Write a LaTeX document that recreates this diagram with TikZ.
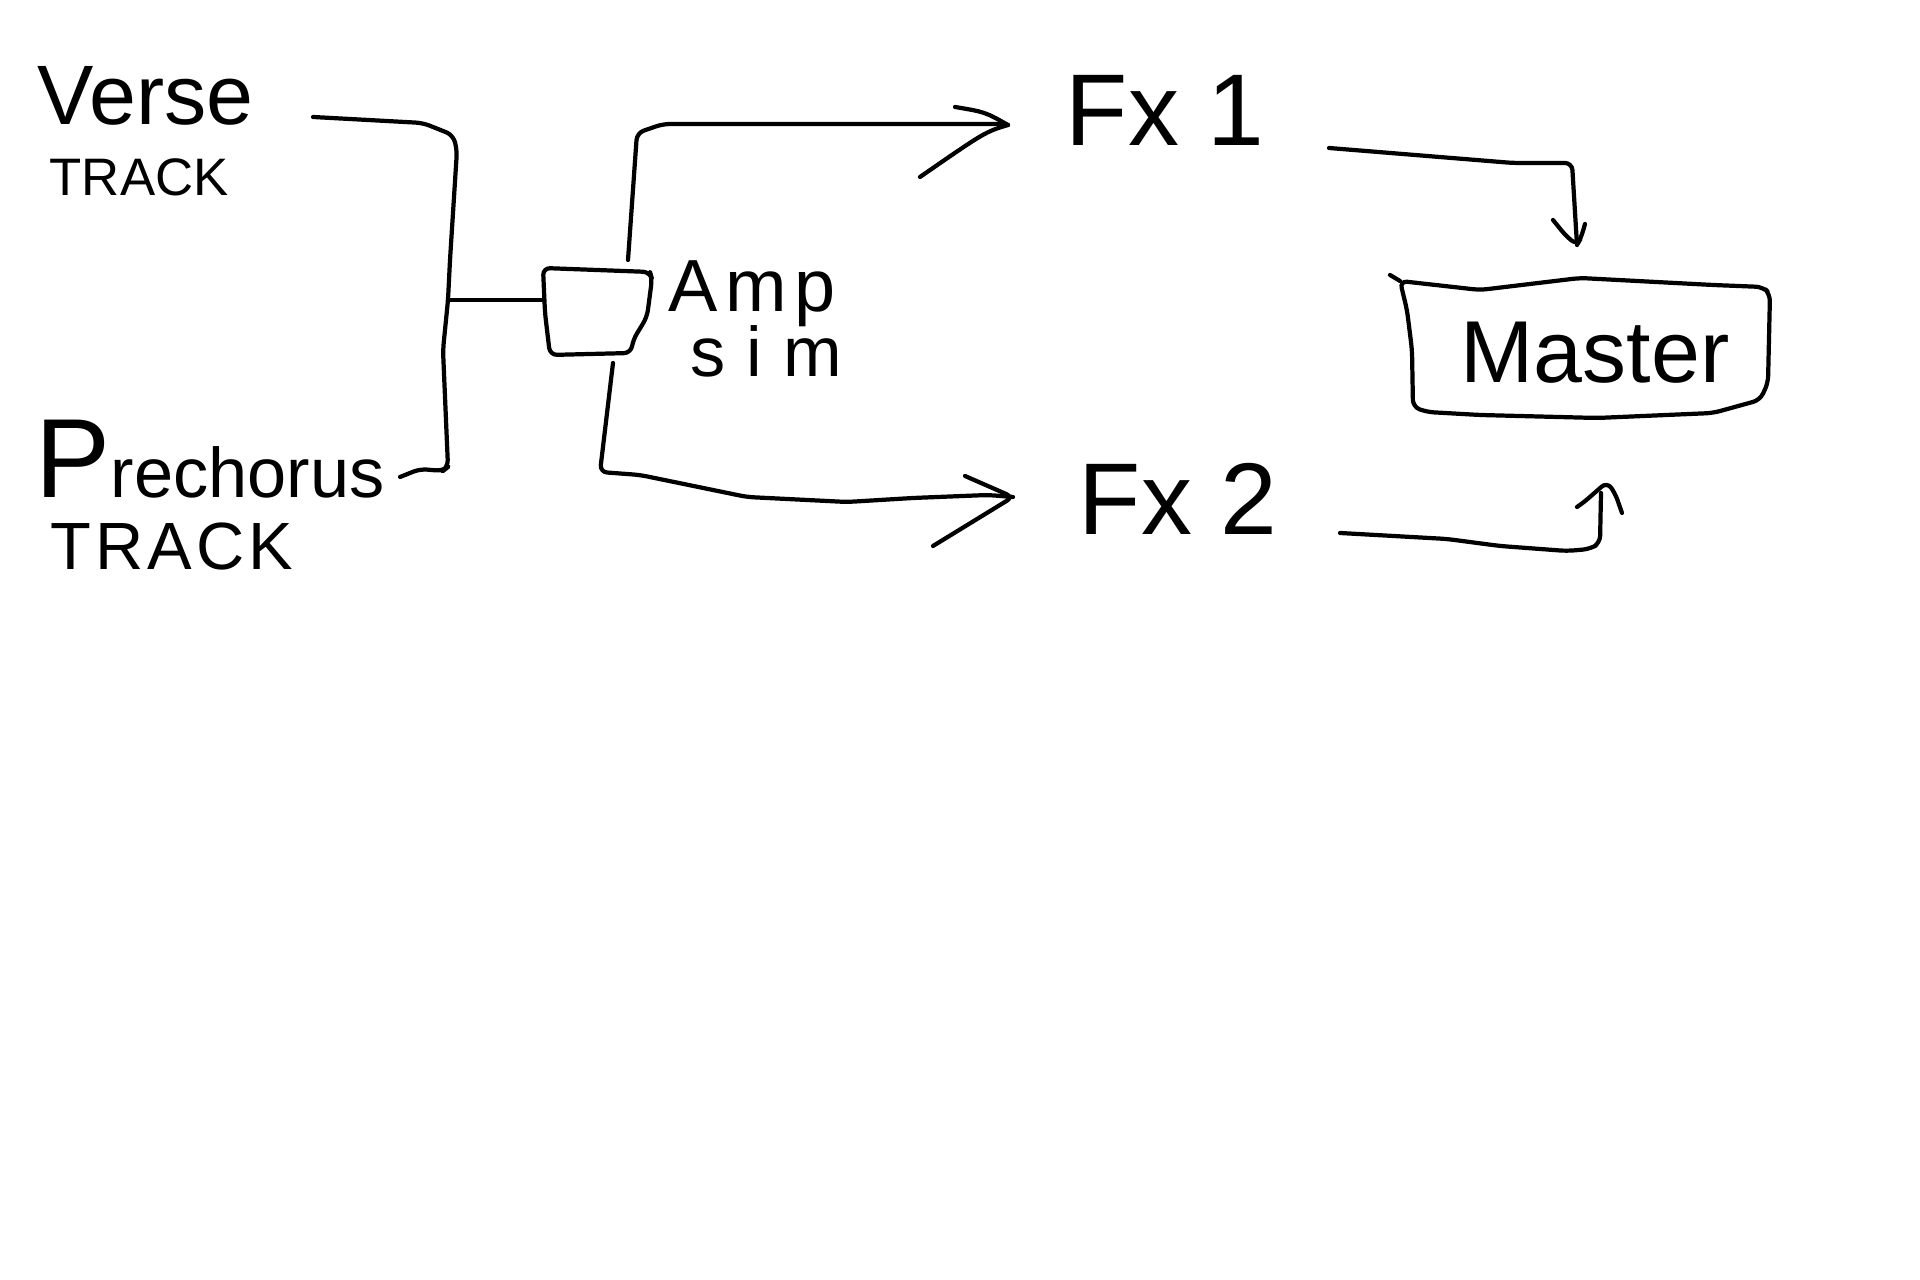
\documentclass[tikz,border=0pt]{standalone}
\usepackage{fontspec}
\setmainfont{Liberation Sans}
\begin{document}
\begin{tikzpicture}[x=0.01cm, y=-0.01cm,
  pen/.style={line width=1.2pt, line cap=round, line join=round, rounded corners=2pt},
  hand/.style={inner sep=0pt, anchor=base west, text=black}]
\fill[white] (0,0) rectangle (1920,1280);
\useasboundingbox (0,0) rectangle (1920,1280);

% text nodes
\node[hand, font=\fontsize{24}{24}\selectfont] (verse) at (37,125) {Verse};
\node[hand, font=\fontsize{15}{15}\selectfont] (verseTrack) at (49,196) {TRACK};
\node[hand, font=\fontsize{20}{20}\selectfont] (prechorus) at (35,498) {{\fontsize{32}{32}\selectfont P}rechorus};
\node[hand, font=\fontsize{19}{19}\selectfont\addfontfeature{LetterSpace=6}] (preTrack) at (50,570) {TRACK};
\node[hand, font=\fontsize{21}{21}\selectfont\addfontfeature{LetterSpace=10}] (ampA) at (668,312) {Amp};
\node[hand, font=\fontsize{20}{20}\selectfont\addfontfeature{LetterSpace=30}] (ampB) at (690,377) {sim};
\node[hand, font=\fontsize{29}{29}\selectfont] (fx1) at (1065,146) {Fx 1};
\node[hand, font=\fontsize{29}{29}\selectfont] (fx2) at (1078,535) {Fx 2};
\node[hand, font=\fontsize{25}{25}\selectfont] (master) at (1460,383) {Master};

% named points
\coordinate (vOut) at (313,117);
\coordinate (pOut) at (400,477);
\coordinate (join) at (448,300);
\coordinate (ampIn) at (543,300);
\coordinate (ampTop) at (628,260);
\coordinate (ampBot) at (613,363);
\coordinate (fx1In) at (1008,125);
\coordinate (fx2In) at (1013,497);
\coordinate (fx1Out) at (1329,148);
\coordinate (fx2Out) at (1340,533);
\coordinate (mTop) at (1577,245);
\coordinate (mBot) at (1607,482);

% bracket from the two tracks
\draw[pen] (vOut) -- (423,123) -- (453,135) -- (457,150) -- (450,260) -- (join)
  -- (443,350) -- (448,467) -- (443,471) -- (420,469) -- (pOut);
\draw[pen] (join) -- (ampIn);

% amp box
\draw[pen] (543,268) -- (650,272) -- (652,279) -- (647,317) -- (633,340) -- (631,353)
  -- (550,355) -- (545,313) -- cycle;

% amp -> Fx 1
\draw[pen] (ampTop) -- (637,133) -- (663,124) -- (1000,124) -- (fx1In);
\draw[pen, rounded corners=0pt] (955,107) .. controls (985,112) .. (fx1In);
\draw[pen, rounded corners=0pt] (fx1In) .. controls (985,132) .. (920,177);

% amp -> Fx 2
\draw[pen] (ampBot) -- (600,472) -- (640,475) -- (747,497) -- (847,502) -- (913,498) -- (988,495) -- (fx2In);
\draw[pen] (965,476) -- (fx2In) -- (933,546);

% Fx 1 -> Master
\draw[pen] (fx1Out) -- (1513,163) -- (1572,163) -- (mTop);
\draw[pen] (1553,220) -- (1566,236) -- (mTop) -- (1581,238) -- (1585,224);

% Master box
\draw[pen] (1390,275) -- (1400,281);
\draw[pen] (1400,281) -- (1480,290) -- (1580,278) -- (1713,285) -- (1763,287)
  -- (1770,294) -- (1768,383) -- (1760,400) -- (1713,413) -- (1597,418)
  -- (1480,415) -- (1427,412) -- (1413,407) -- (1412,350) -- (1407,310) -- cycle;

% Fx 2 -> Master
\draw[pen] (fx2Out) -- (1447,539) -- (1500,546) -- (1567,551) -- (1590,549) -- (1600,543) -- (1601,493);
\draw[pen] (1577,507) -- (1583,503) -- (mBot) -- (1615,493) -- (1622,513);
\end{tikzpicture}
\end{document}
